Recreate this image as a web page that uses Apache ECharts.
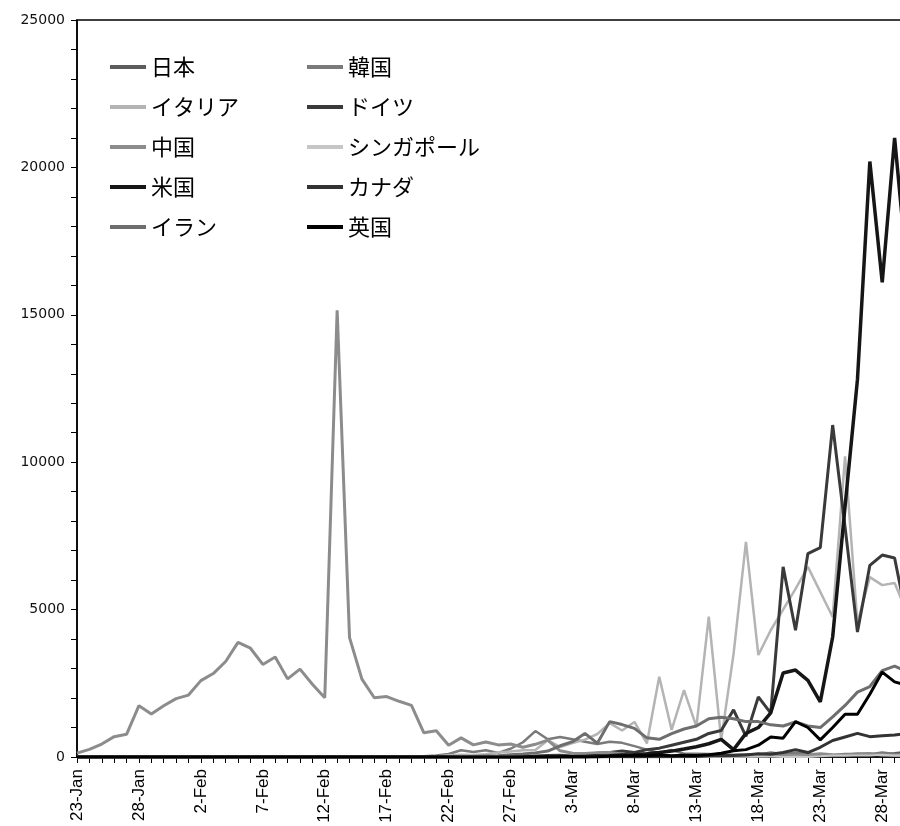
<!DOCTYPE html>
<html>
<head>
<meta charset="utf-8">
<script src="https://cdn.jsdelivr.net/npm/echarts@6/dist/echarts.min.js"></script>
<style>
html, body { margin: 0; padding: 0; overflow: hidden; background: #fff; }
#chart { width: 907px; height: 826px; }
</style>
</head>
<body>
<div id="chart"></div>
<script>
// 日付 (23-Jan .. 30-Mar)
var dates = [
    '23-Jan', '24-Jan', '25-Jan', '26-Jan', '27-Jan', '28-Jan', '29-Jan', '30-Jan', '31-Jan', '1-Feb',
    '2-Feb', '3-Feb', '4-Feb', '5-Feb', '6-Feb', '7-Feb', '8-Feb', '9-Feb', '10-Feb', '11-Feb',
    '12-Feb', '13-Feb', '14-Feb', '15-Feb', '16-Feb', '17-Feb', '18-Feb', '19-Feb', '20-Feb', '21-Feb',
    '22-Feb', '23-Feb', '24-Feb', '25-Feb', '26-Feb', '27-Feb', '28-Feb', '29-Feb', '1-Mar', '2-Mar',
    '3-Mar', '4-Mar', '5-Mar', '6-Mar', '7-Mar', '8-Mar', '9-Mar', '10-Mar', '11-Mar', '12-Mar',
    '13-Mar', '14-Mar', '15-Mar', '16-Mar', '17-Mar', '18-Mar', '19-Mar', '20-Mar', '21-Mar', '22-Mar',
    '23-Mar', '24-Mar', '25-Mar', '26-Mar', '27-Mar', '28-Mar', '29-Mar', '30-Mar'
];

var japan = [
    0, 0, 1, 0, 0, 2, 1, 3, 0, 3,
    0, 1, 0, 3, 0, 5, 0, 0, 0, 2,
    0, 3, 8, 5, 8, 6, 7, 9, 6, 13,
    11, 8, 16, 12, 14, 21, 20, 21, 14, 16,
    18, 14, 35, 27, 47, 26, 31, 59, 33, 51,
    54, 56, 58, 40, 15, 27, 44, 39, 33, 36,
    40, 38, 42, 91, 87, 97, 124, 173
];
var korea = [
    0, 0, 1, 0, 0, 1, 0, 0, 4, 1,
    3, 3, 1, 3, 0, 2, 1, 0, 3, 0,
    0, 0, 0, 0, 0, 1, 1, 2, 23, 50,
    100, 230, 170, 230, 140, 280, 500, 880, 600, 680,
    600, 520, 440, 520, 480, 370, 250, 130, 240, 110,
    110, 100, 80, 75, 90, 80, 150, 90, 150, 100,
    60, 70, 100, 100, 90, 150, 100, 80
];
var italy = [
    0, 0, 0, 0, 0, 0, 0, 0, 2, 0,
    0, 0, 0, 0, 0, 1, 0, 0, 0, 0,
    0, 0, 0, 0, 0, 0, 0, 0, 3, 17,
    60, 80, 70, 90, 150, 190, 230, 240, 570, 340,
    470, 590, 780, 1150, 900, 1190, 460, 2720, 920, 2270,
    1030, 4760, 580, 3500, 7300, 3460, 4300, 5000, 5700, 6450,
    5600, 4750, 10200, 4550, 6100, 5830, 5900, 4900
];
var germany = [
    0, 0, 0, 0, 0, 1, 3, 0, 1, 3,
    0, 1, 2, 0, 0, 1, 0, 0, 0, 0,
    0, 0, 0, 0, 0, 0, 0, 0, 0, 0,
    0, 0, 0, 0, 0, 2, 10, 30, 50, 60,
    30, 50, 130, 150, 200, 150, 250, 300, 400, 500,
    600, 800, 900, 1600, 700, 2040, 1490, 6450, 4300, 6900,
    7100, 11260, 7800, 4240, 6500, 6850, 6750, 4650
];
var china = [
    130, 260, 440, 690, 770, 1740, 1460, 1740, 1980, 2100,
    2590, 2830, 3240, 3890, 3690, 3140, 3390, 2650, 2980, 2470,
    2010, 15150, 4050, 2640, 2010, 2050, 1890, 1750, 820, 890,
    400, 650, 410, 510, 410, 440, 330, 430, 570, 210,
    130, 120, 140, 150, 100, 45, 40, 20, 25, 10,
    15, 20, 25, 30, 20, 30, 40, 60, 50, 80,
    110, 80, 70, 110, 120, 60, 50, 40
];
var singapore = [
    1, 0, 2, 1, 0, 3, 0, 2, 3, 3,
    2, 1, 4, 0, 6, 2, 0, 3, 2, 8,
    2, 2, 3, 9, 0, 2, 4, 1, 2, 1,
    3, 0, 2, 2, 1, 2, 5, 2, 5, 4,
    2, 2, 2, 2, 5, 2, 14, 6, 2, 12,
    13, 13, 16, 10, 14, 23, 17, 4, 11, 3,
    23, 54, 49, 55, 52, 73, 49, 70
];
var usa = [
    1, 0, 0, 2, 0, 0, 0, 0, 1, 0,
    1, 0, 0, 0, 0, 0, 0, 0, 0, 0,
    0, 1, 0, 0, 0, 0, 0, 0, 0, 0,
    0, 0, 0, 0, 0, 0, 0, 1, 3, 5,
    10, 20, 30, 40, 70, 80, 110, 150, 200, 270,
    350, 450, 600, 250, 800, 1000, 1500, 2850, 2950, 2600,
    1870, 4070, 8500, 12800, 20200, 16100, 21000, 16500
];
var canada = [
    0, 0, 0, 0, 0, 1, 0, 0, 1, 0,
    0, 0, 0, 0, 0, 0, 0, 0, 0, 0,
    0, 0, 0, 0, 0, 0, 0, 0, 0, 0,
    0, 0, 0, 0, 0, 1, 1, 2, 2, 5,
    3, 3, 3, 5, 6, 3, 9, 15, 10, 15,
    20, 40, 60, 50, 70, 110, 90, 150, 250, 150,
    330, 560, 680, 800, 690, 720, 750, 800
];
var iran = [
    0, 0, 0, 0, 0, 0, 0, 0, 0, 0,
    0, 0, 0, 0, 0, 0, 0, 0, 0, 0,
    0, 0, 0, 0, 0, 0, 0, 0, 2, 3,
    10, 20, 15, 30, 40, 80, 100, 140, 200, 380,
    520, 800, 470, 1200, 1100, 970, 650, 600, 790, 950,
    1050, 1300, 1350, 1300, 1200, 1200, 1090, 1050, 1190, 1050,
    1000, 1360, 1750, 2200, 2390, 2930, 3080, 2900
];
var uk = [
    0, 0, 0, 0, 0, 0, 0, 0, 2, 0,
    0, 0, 0, 0, 0, 0, 0, 0, 0, 0,
    0, 0, 0, 0, 0, 0, 0, 0, 0, 0,
    0, 0, 0, 1, 0, 4, 0, 3, 11, 12,
    13, 4, 11, 34, 30, 48, 43, 67, 46, 60,
    50, 80, 130, 210, 250, 400, 680, 640, 1200, 1000,
    580, 1000, 1450, 1450, 2130, 2880, 2550, 2430
];

var names = ['日本', '韓国', 'イタリア', 'ドイツ', '中国', 'シンガポール', '米国', 'カナダ', 'イラン', '英国'];
var values = [japan, korea, italy, germany, china, singapore, usa, canada, iran, uk];
var colors = ['#5c5c5c', '#7a7a7a', '#b4b4b4', '#3a3a3a', '#8c8c8c', '#c6c6c6', '#161616', '#333333', '#6e6e6e', '#000000'];
var widths = [2.5, 2.5, 2.5, 3, 3, 2, 3.5, 3, 3, 3];

var myChart = echarts.init(document.getElementById('chart'));

var series = [];
for (var i = 0; i < names.length; i++) {
    series.push({
        name: names[i],
        type: 'line',
        symbol: 'none',
        data: values[i],
        lineStyle: { color: colors[i], width: widths[i] },
        itemStyle: { color: colors[i] }
    });
}

var legendText = {
    fontSize: 22,
    fontFamily: 'Noto Sans CJK JP',
    color: '#000'
};

var option = {
    animation: false,
    backgroundColor: '#fff',
    grid: {
        left: 77,
        right: 0,
        top: 20,
        bottom: 69,
        show: true,
        borderColor: '#000',
        borderWidth: 1.5
    },
    legend: [{
        orient: 'vertical',
        left: 105,
        top: 51,
        icon: 'rect',
        itemWidth: 36,
        itemHeight: 4,
        itemGap: 18,
        textStyle: legendText,
        data: ['日本', 'イタリア', '中国', '米国', 'イラン']
    }, {
        orient: 'vertical',
        left: 302,
        top: 51,
        icon: 'rect',
        itemWidth: 36,
        itemHeight: 4,
        itemGap: 18,
        textStyle: legendText,
        data: ['韓国', 'ドイツ', 'シンガポール', 'カナダ', '英国']
    }],
    xAxis: {
        type: 'category',
        boundaryGap: false,
        data: dates,
        axisLine: { lineStyle: { color: '#000', width: 1.5 } },
        axisTick: { interval: 0, length: 6, lineStyle: { color: '#000' } },
        axisLabel: {
            interval: 4,
            rotate: 90,
            margin: 12,
            fontSize: 17,
            fontFamily: 'Liberation Sans',
            color: '#000'
        },
        splitLine: { show: false }
    },
    yAxis: {
        type: 'value',
        min: 0,
        max: 25000,
        interval: 1000,
        axisLine: { show: true, lineStyle: { color: '#000', width: 1.5 } },
        axisTick: { show: true, length: 6, lineStyle: { color: '#000' } },
        axisLabel: {
            margin: 12,
            fontSize: 14,
            fontFamily: 'DejaVu Sans',
            color: '#111',
            formatter: function (v) { return v % 5000 === 0 ? v : ''; }
        },
        splitLine: { show: false }
    },
    series: series
};

option && myChart.setOption(option);
</script>
</body>
</html>
